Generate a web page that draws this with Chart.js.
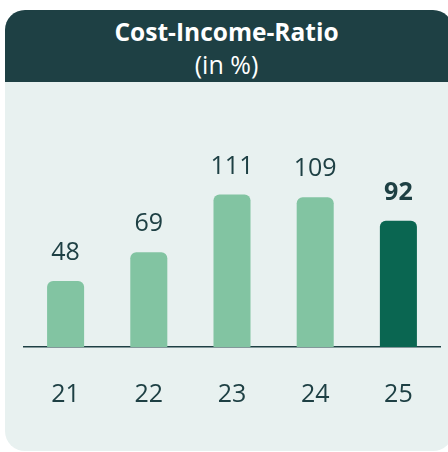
<!DOCTYPE html>
<html lang="de">
<head>
  <meta charset="UTF-8">
  <title>Cost-Income-Ratio</title>
  <script src="https://cdn.jsdelivr.net/npm/chart.js"></script>
  <style>
    body {
      margin: 0;
      width: 448px;
      height: 452px;
      background: #fff;
      overflow: hidden;
      font-family: "Open Sans", sans-serif;
      position: relative;
    }

    .card {
      position: absolute;
      left: 5px;
      top: 10px;
      width: 448px;
      height: 441px;
      border-radius: 20px;
      background: #e8f1f0;
      overflow: hidden;
    }

    .header {
      height: 72px;
      background: #1e4044;
      color: #fff;
      text-align: center;
      width: 443px;
      padding-top: 7px;
      box-sizing: border-box;
    }

    .header .title {
      font-size: 24.5px;
      font-weight: bold;
      line-height: 30px;
    }

    .header .sub {
      font-size: 25px;
      line-height: 34px;
    }

    #chart {
      position: absolute;
      left: 0;
      top: 82px;
    }
  </style>
</head>
<body>
  <div class="card">
    <div class="header">
      <div class="title">Cost-Income-Ratio</div>
      <div class="sub">(in %)</div>
    </div>
  </div>
  <canvas id="chart" width="448" height="370"></canvas>

  <script>
    const years = ['21', '22', '23', '24', '25'];
    const ratio = [48, 69, 111, 109, 92];
    const barColors = ['#82c4a2', '#82c4a2', '#82c4a2', '#82c4a2', '#0a6651'];
    const boldLabel = [false, false, false, false, true];

    // Werte über den Balken
    const valueLabels = {
      id: 'valueLabels',
      afterDatasetsDraw(chart) {
        const ctx = chart.ctx;
        const meta = chart.getDatasetMeta(0);
        ctx.save();
        ctx.fillStyle = '#1e4044';
        ctx.textAlign = 'center';
        ctx.textBaseline = 'middle';
        meta.data.forEach((bar, i) => {
          ctx.font = (boldLabel[i] ? 'bold ' : '') + '25px "Open Sans"';
          ctx.fillText(ratio[i], bar.x, bar.y - 28);
        });
        ctx.restore();
      }
    };

    new Chart(document.getElementById('chart'), {
      type: 'bar',
      data: {
        labels: years,
        datasets: [{
          data: ratio,
          backgroundColor: barColors,
          borderRadius: 6,
          borderSkipped: 'bottom',
          categoryPercentage: 1,
          barPercentage: 0.445
        }]
      },
      options: {
        responsive: false,
        animation: false,
        layout: {
          padding: { left: 24, right: 8, top: 59, bottom: 9 }
        },
        plugins: {
          legend: { display: false },
          tooltip: { enabled: false }
        },
        scales: {
          y: {
            display: false,
            min: 0,
            max: 150
          },
          x: {
            grid: { display: false, drawTicks: false },
            border: { display: true, color: '#1e4044', width: 1.5 },
            ticks: {
              color: '#1e4044',
              font: { family: '"Open Sans"', size: 25 },
              padding: 33
            }
          }
        }
      },
      plugins: [valueLabels]
    });
  </script>
</body>
</html>
